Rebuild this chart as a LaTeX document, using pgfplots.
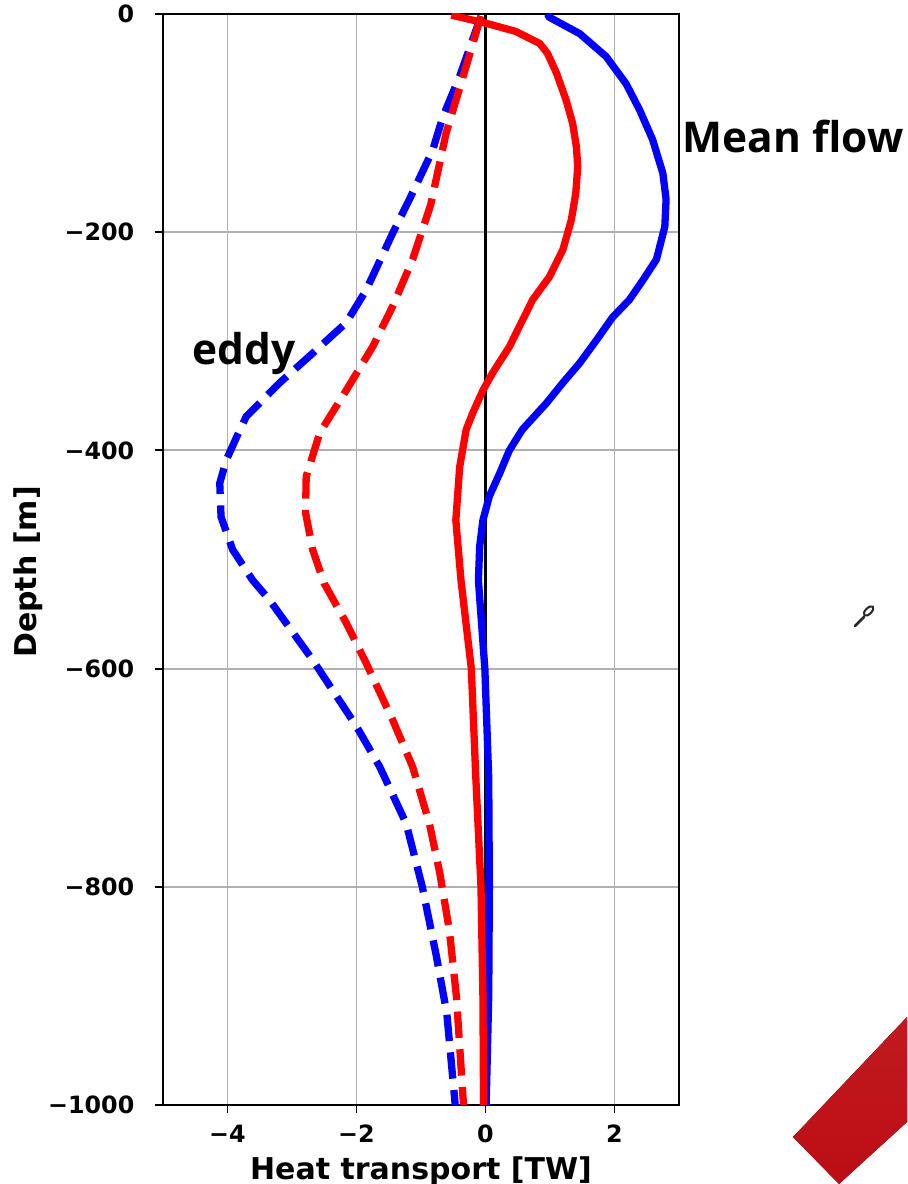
\documentclass[border=0pt]{standalone}
\usepackage{fontspec}
\setmainfont{DejaVu Sans}
\newfontfamily\annfont{Open Sans}
\usepackage{pgfplots}
\pgfplotsset{compat=1.18}
\definecolor{gridgray}{RGB}{176,176,176}
\definecolor{barred}{RGB}{188,14,20}
\begin{document}
\begin{tikzpicture}
\begin{axis}[
 name=ax,
 scale only axis, width=258pt, height=545.5pt,
 xmin=-5, xmax=3, ymin=-1000, ymax=0,
 xtick={-4,-2,0,2}, xticklabels={−4,−2,0,2},
 ytick={-1000,-800,-600,-400,-200,0},
 yticklabels={−1000,−800,−600,−400,−200,0},
 xtick pos=bottom, ytick pos=left,
 tick align=outside, major tick length=4.15pt,
 every tick/.style={black, line width=0.95pt},
 axis line style={black, line width=0.95pt},
 grid=major, grid style={color=gridgray, line width=0.95pt},
 tick label style={font=\fontsize{11.9}{13}\selectfont\bfseries},
 yticklabel style={anchor=east, inner sep=0pt, xshift=-10pt},
 xticklabel style={anchor=north, inner sep=0pt, yshift=-5.5pt},
 xlabel={Heat transport [TW]}, ylabel={Depth [m]},
 label style={font=\fontsize{15}{18}\selectfont\bfseries},
 xlabel style={at={(axis description cs:0.5,-0.0687)}, anchor=base, inner sep=0pt},
 ylabel style={at={(axis description cs:-0.2607,0.4885)}, anchor=center, inner sep=0pt},
 clip mode=individual,
]
% zero line
\addplot[black, line width=1.2pt] coordinates {(0,0) (0,-1000)};
% eddy, blue (dashed)
\addplot[blue, line width=3.65pt, dash pattern=on 13.2pt off 5.7pt] coordinates {
(-0.07,-2) (-0.4,-57) (-0.66,-94) (-0.82,-125) (-1.18,-170) (-1.44,-201)
(-1.85,-253) (-2.16,-283) (-2.68,-311) (-3.19,-338) (-3.71,-369) (-3.86,-388)
(-4.02,-409) (-4.12,-430) (-4.10,-461) (-3.92,-491) (-3.61,-519) (-3.35,-537)
(-2.68,-592) (-2.00,-653) (-1.64,-690) (-1.23,-742) (-0.98,-800) (-0.76,-864)
(-0.60,-916) (-0.48,-993) (-0.47,-1000)};
% eddy, red (dashed)
\addplot[red, line width=3.65pt, dash pattern=on 13.2pt off 5.7pt] coordinates {
(-0.07,-2) (-0.3,-48) (-0.61,-109) (-0.85,-175) (-1.13,-225) (-1.44,-268)
(-1.75,-305) (-2.16,-345) (-2.57,-384) (-2.78,-424) (-2.79,-457) (-2.68,-491)
(-2.50,-522) (-2.16,-558) (-1.85,-595) (-1.44,-647) (-1.13,-690) (-0.87,-742)
(-0.71,-787) (-0.56,-840) (-0.45,-901) (-0.35,-992) (-0.34,-1000)};
% mean flow, blue
\addplot[blue, line width=3.65pt, line join=round] coordinates {
(0.96,0) (0.99,-3) (1.46,-18) (1.87,-39) (2.18,-64) (2.39,-88) (2.59,-115)
(2.75,-146) (2.80,-170) (2.78,-195) (2.65,-225) (2.44,-244) (2.23,-262)
(1.97,-278) (1.72,-299) (1.46,-320) (1.20,-338) (0.94,-357) (0.57,-381)
(0.37,-400) (0.22,-421) (0.06,-442) (-0.04,-464) (-0.09,-488) (-0.11,-519)
(-0.01,-600) (0.05,-700) (0.06,-800) (0.05,-900) (0.01,-1000)};
% mean flow, red
\addplot[red, line width=3.65pt, line join=round] coordinates {
(-0.53,-1) (0.01,-8.5) (0.47,-16) (0.84,-27) (0.96,-36) (1.10,-54) (1.25,-79)
(1.35,-100) (1.41,-122) (1.43,-140) (1.40,-164) (1.33,-189) (1.20,-216)
(0.99,-241) (0.73,-262) (0.63,-274) (0.37,-305) (0.11,-329) (-0.04,-345)
(-0.20,-366) (-0.30,-381) (-0.40,-415) (-0.46,-464) (-0.38,-519) (-0.22,-600)
(-0.15,-700) (-0.07,-800) (-0.04,-900) (-0.03,-1000)};
\node[anchor=base west, inner sep=0pt, font=\annfont\fontsize{21.2}{24}\selectfont\bfseries] at (axis cs:3.054,-127.4) {Mean flow};
\node[anchor=base west, inner sep=0pt, font=\annfont\fontsize{21.2}{24}\selectfont\bfseries] at (axis cs:-4.543,-321.7) {eddy};
\end{axis}
% decorations of the source slide
\begin{scope}[shift={(ax.south west)}]
\fill[top color=barred!95!white, bottom color=barred] (315pt,-16pt) -- (372pt,44pt) -- (372pt,-8.5pt) -- (338pt,-39.5pt) -- cycle;
\draw[black!85, line width=1.3pt, line cap=round] (346pt,239.5pt) -- (350.5pt,244pt);
\draw[black!85, line width=1pt, rotate around={45:(352.8pt,247pt)}] (352.8pt,247pt) ellipse (3pt and 1.5pt);
\end{scope}
\pgfresetboundingbox
\path ([xshift=-81.5pt,yshift=-39.5pt]ax.south west) rectangle ([xshift=372pt,yshift=552.5pt]ax.south west);
\end{tikzpicture}
\end{document}
